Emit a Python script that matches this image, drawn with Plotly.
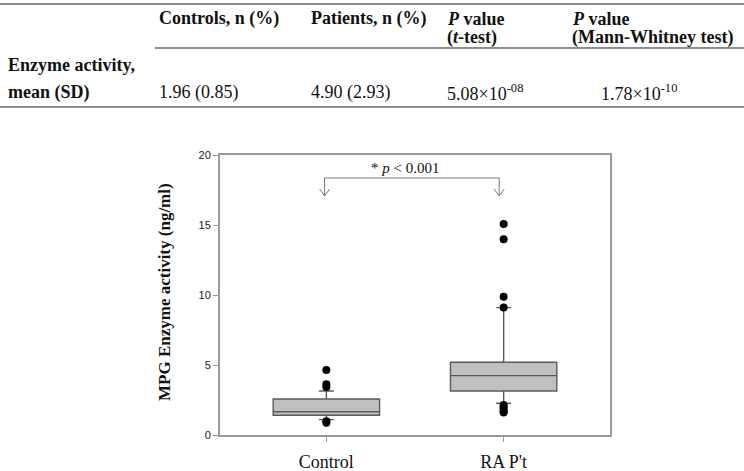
import plotly.graph_objects as go

# ---------- data ----------
groups = ["Control", "RA P't"]
group_pos = [0, 1]
q1 = [1.41, 3.14]
median = [1.66, 4.24]
q3 = [2.57, 5.20]
lower_fence = [1.10, 2.27]
upper_fence = [3.14, 9.10]
outliers_control = [4.65, 3.62, 3.42, 0.98, 0.88]
outliers_ra = [15.07, 13.98, 9.88, 9.10, 2.15, 2.00, 1.85, 1.70, 1.60]
y_ticks = [0, 5, 10, 15, 20]

table_cols = ["Controls, n (%)", "Patients, n (%)", "<i>P</i> value<br>(<i>t</i>-test)",
              "<i>P</i> value<br>(Mann-Whitney test)"]
table_row_label = "Enzyme activity,<br>mean (SD)"
table_values = ["1.96 (0.85)", "4.90 (2.93)", "5.08×10<sup>-08</sup>", "1.78×10<sup>-10</sup>"]
sig_text = "* <i>p</i> < 0.001"

W, H = 744, 471
def px(x):
    return x / W
def py(y):
    return 1 - y / H

SERIF = "Liberation Serif"

fig = go.Figure()

for i in range(2):
    fig.add_trace(go.Box(
        x=[group_pos[i]], q1=[q1[i]], median=[median[i]], q3=[q3[i]],
        lowerfence=[lower_fence[i]], upperfence=[upper_fence[i]],
        width=0.6, whiskerwidth=0.14,
        fillcolor="#c0c0c0", line=dict(color="#5a5a5a", width=1.4),
        boxpoints=False, showlegend=False, hoverinfo="skip"))

fig.add_trace(go.Scatter(x=[group_pos[0]] * len(outliers_control), y=outliers_control,
                         mode="markers", marker=dict(color="black", size=8),
                         showlegend=False))
fig.add_trace(go.Scatter(x=[group_pos[1]] * len(outliers_ra), y=outliers_ra,
                         mode="markers", marker=dict(color="black", size=8),
                         showlegend=False))

# significance bracket
xa, xb = -0.01, 0.975
ytop, ytip = 18.36, 17.07
bracket_color = "#777777"
fig.add_shape(type="path", xref="x", yref="y",
              path=f"M {xa},{ytip} L {xa},{ytop} L {xb},{ytop} L {xb},{ytip}",
              line=dict(color=bracket_color, width=1))
for xv in (xa, xb):
    fig.add_shape(type="path", xref="x", yref="y",
                  path=f"M {xv-0.028},{ytip+0.5} L {xv},{ytip} L {xv+0.028},{ytip+0.5}",
                  line=dict(color=bracket_color, width=1))
fig.add_annotation(x=0.444, y=19.1, xref="x", yref="y", text=sig_text,
                   showarrow=False, font=dict(family=SERIF, size=15, color="#111"))

# ---------- table ----------
line_col = "#8c8c8c"
fig.add_shape(type="line", xref="paper", yref="paper", x0=0, x1=1, y0=py(4), y1=py(4),
              line=dict(color=line_col, width=2))
fig.add_shape(type="line", xref="paper", yref="paper", x0=px(155), x1=1, y0=py(48), y1=py(48),
              line=dict(color=line_col, width=2))
fig.add_shape(type="line", xref="paper", yref="paper", x0=0, x1=1, y0=py(107), y1=py(107),
              line=dict(color=line_col, width=2))

col_x = [157, 309, 445, 570]
for i, t in enumerate(table_cols):
    lines = t.split("<br>")
    for j, ln in enumerate(lines):
        fig.add_annotation(x=px(col_x[i]), y=py(19 + 19 * j), xref="paper", yref="paper",
                           text=f"<b>{ln}</b>", showarrow=False, xanchor="left", yanchor="middle",
                           font=dict(family=SERIF, size=18, color="#111"))
for j, ln in enumerate(table_row_label.split("<br>")):
    fig.add_annotation(x=px(6), y=py(65 + 28 * j), xref="paper", yref="paper",
                       text=f"<b>{ln}</b>", showarrow=False, xanchor="left", yanchor="middle",
                       font=dict(family=SERIF, size=18, color="#111"))
val_x = [157, 309, 445, 599]
for i, v in enumerate(table_values):
    fig.add_annotation(x=px(val_x[i]), y=py(93), xref="paper", yref="paper",
                       text=v, showarrow=False, xanchor="left", yanchor="middle",
                       font=dict(family=SERIF, size=18, color="#111"))

# y title
fig.add_annotation(x=px(164), y=py(292), xref="paper", yref="paper",
                   xanchor="center", yanchor="middle",
                   text="<b>MPG Enzyme activity (ng/ml)</b>", textangle=-90, showarrow=False,
                   font=dict(family=SERIF, size=17, color="#111"))

axis_col = "#999999"
fig.update_layout(
    width=W, height=H, margin=dict(l=0, r=0, t=0, b=0),
    paper_bgcolor="white", plot_bgcolor="white",
    xaxis=dict(domain=[px(220), px(610)], range=[-0.6, 1.6], tickvals=group_pos, ticktext=groups,
               showgrid=False, zeroline=False, showline=True, linecolor=axis_col, linewidth=2,
               mirror=True, ticks="outside", ticklen=5, tickcolor=axis_col, tickwidth=1,
               tickfont=dict(family=SERIF, size=18, color="#111"), ticklabelstandoff=4,
               automargin=False),
    yaxis=dict(domain=[py(435), py(155)], range=[0, 20], tickvals=y_ticks,
               showgrid=False, zeroline=False, showline=True, linecolor=axis_col, linewidth=2,
               mirror=True, ticks="outside", ticklen=5, tickcolor=axis_col, tickwidth=1,
               tickfont=dict(family="Liberation Sans", size=11, color="#222"),
               automargin=False),
)

fig.write_html("out.html", config={"displayModeBar": False},
               post_script="document.body.style.margin='0';")
